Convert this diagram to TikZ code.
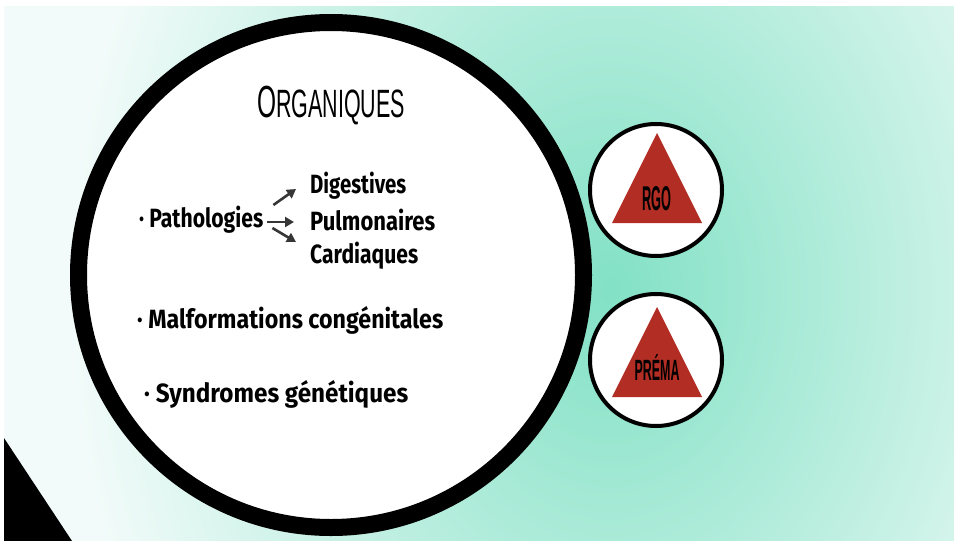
\documentclass[tikz,border=0pt]{standalone}
\usepackage{fontspec}
\usepackage{graphicx}
\setmainfont{Fira Sans}
\newfontfamily\titlefont{Liberation Sans}
\usetikzlibrary{arrows.meta,calc}
\definecolor{bgin}{HTML}{82E1C5}
\definecolor{bgout}{HTML}{F2FBF9}
\definecolor{tri}{HTML}{B22D24}
\definecolor{arrc}{HTML}{363636}
\newcommand\fitx[2]{\resizebox{#1}{1.1\height}{#2}}
\newcommand\fitt[2]{\resizebox{#1}{\height}{#2}}
\tikzset{
  bodytxt/.style={anchor=base west, inner sep=0pt, font=\fontsize{24}{28}\selectfont\bfseries},
  arr/.style={draw=arrc, line width=2.6pt, -{Triangle[length=9pt,width=10pt]}},
  ring/.style={draw=black, line width=4pt, fill=white},
  warn/.style={fill=tri}
}
\begin{document}
\begin{tikzpicture}[x=1pt,y=-1pt]
\useasboundingbox (0,0) rectangle (954,541);
\fill[white] (0,0) rectangle (954,541);
\begin{scope}
\clip (4,6) rectangle (954,541);
\fill[bgout] (4,6) rectangle (954,541);
\shade[inner color=bgin, outer color=bgout] (610,290) ellipse [x radius=540, y radius=700];
\fill[black] (4,438) -- (72,541) -- (4,541) -- cycle;
\end{scope}
% big circle
\draw[draw=black, line width=17pt, fill=white] (331,275) circle [radius=252.5];
% small circles
\draw[ring] (656,190) circle [radius=66];
\draw[ring] (656,360) circle [radius=66];
\fill[warn] (657,133) -- (702,223) -- (612,223) -- cycle;
\fill[warn] (657,307) -- (702,397) -- (612,397) -- cycle;
\node[anchor=base, inner sep=0pt] (rgo) at (656.5,210) {\titlefont\bfseries\resizebox{29pt}{24pt}{RGO}};
\node[anchor=base, inner sep=0pt] (prema) at (657,380) {\titlefont\bfseries\fontsize{29.3}{32}\selectfont\fitt{45pt}{PRÉMA}};
% title
\node[anchor=base, inner sep=0pt] (title) at (331,117) {\titlefont\fitt{148pt}{{\fontsize{45}{50}\selectfont O}{\fontsize{39.5}{44}\selectfont RGANIQUES}}};
% body texts
\node[bodytxt] (patho) at (139,227) {\fitx{124pt}{· Pathologies}};
\node[bodytxt] (dig) at (310,193) {\fitx{96pt}{Digestives}};
\node[bodytxt] (pulm) at (310,230) {\fitx{125pt}{Pulmonaires}};
\node[bodytxt] (card) at (310,263) {\fitx{108pt}{Cardiaques}};
\node[bodytxt] (malf) at (137,328) {\fitx{306pt}{· Malformations congénitales}};
\node[bodytxt] (synd) at (144,402) {\fitx{264pt}{· Syndromes génétiques}};
% arrows
\draw[arr] ($(patho.base east)+(10,-22)$) -- ($(dig.base west)+(-14,-4)$);
\draw[arr] ($(patho.base east)+(4,-5)$) -- ($(pulm.base west)+(-16,-8)$);
\draw[arr] ($(patho.base east)+(9,1)$) -- ($(card.base west)+(-14,-21)$);
\end{tikzpicture}
\end{document}
